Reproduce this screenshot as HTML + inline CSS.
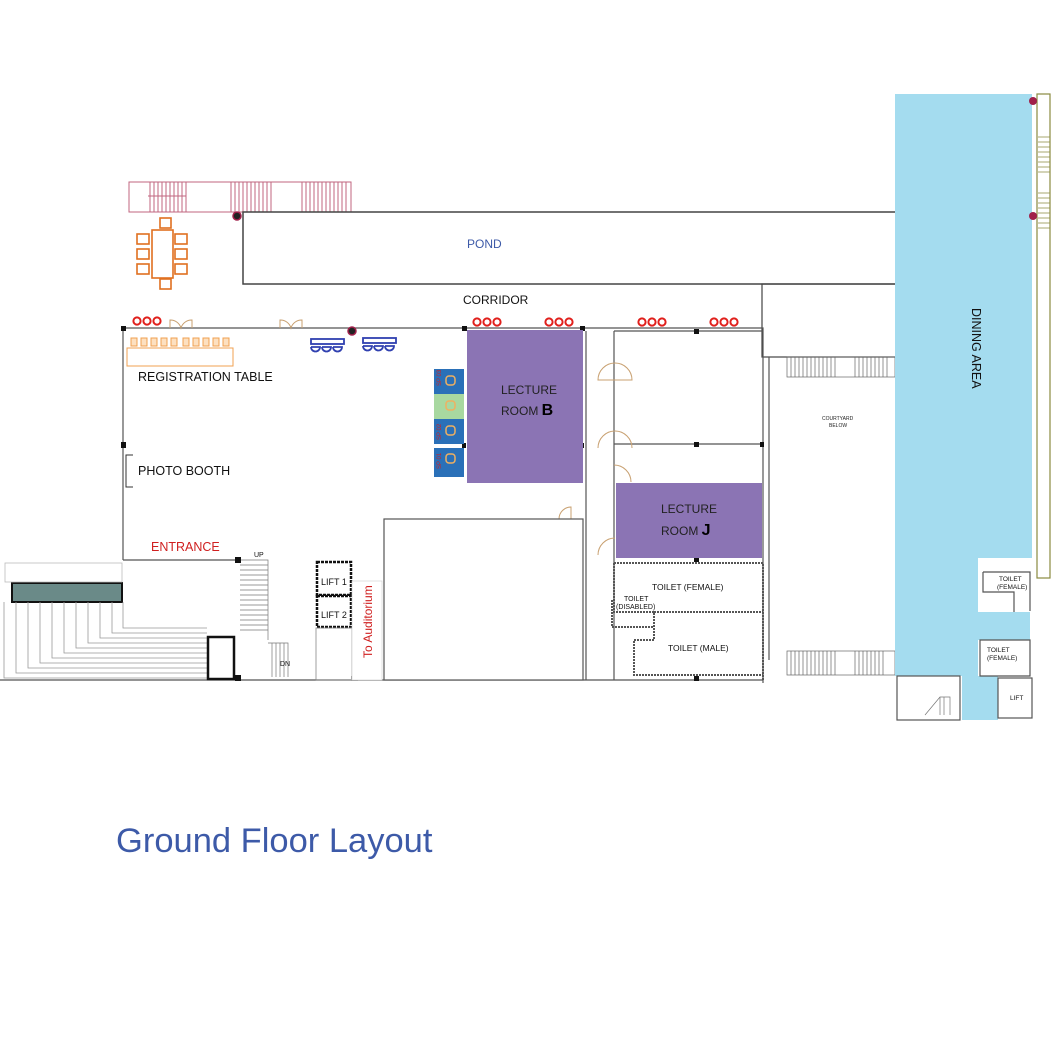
<!DOCTYPE html>
<html><head><meta charset="utf-8"><style>
html,body{margin:0;padding:0;background:#fff}
svg{display:block}
text{font-family:"Liberation Sans",sans-serif}
</style></head><body>
<svg width="1051" height="1051" viewBox="0 0 1051 1051" xmlns="http://www.w3.org/2000/svg">
<rect width="1051" height="1051" fill="#fff"/>

<!-- pink railing -->
<g stroke="#c0667f" stroke-width="1" fill="none">
<rect x="129" y="182" width="222" height="30"/>
<path d="M150 182v30M154 182v30M158 182v30M162 182v30M166 182v30M170 182v30M174 182v30M178 182v30M182 182v30M186 182v30M148 196h38"/>
<path d="M231 182v30M235 182v30M239 182v30M243 182v30M247 182v30M251 182v30M255 182v30M259 182v30M263 182v30M267 182v30M271 182v30"/>
<path d="M302 182v30M306 182v30M310 182v30M314 182v30M318 182v30M322 182v30M326 182v30M330 182v30M334 182v30M338 182v30M342 182v30M346 182v30"/>
</g>
<circle cx="237" cy="216" r="4" fill="#222" stroke="#a0204a" stroke-width="1.5"/>

<!-- dining table -->
<g stroke="#e07020" stroke-width="1.6" fill="#fff">
<rect x="160" y="218" width="11" height="10"/><rect x="160" y="279" width="11" height="10"/>
<rect x="137" y="234" width="12" height="10"/><rect x="137" y="249" width="12" height="10"/><rect x="137" y="264" width="12" height="10"/>
<rect x="175" y="234" width="12" height="10"/><rect x="175" y="249" width="12" height="10"/><rect x="175" y="264" width="12" height="10"/>
<rect x="152" y="230" width="21" height="48"/>
</g>

<!-- pond -->
<rect x="243" y="212" width="654" height="72" fill="none" stroke="#444" stroke-width="1.5"/>
<text x="467" y="248" font-size="12" fill="#3d5aa8">POND</text>
<rect x="762" y="284" width="135" height="73" fill="none" stroke="#444" stroke-width="1.2"/>
<text x="463" y="304" font-size="12" fill="#111">CORRIDOR</text>

<!-- main walls -->
<g stroke="#555" stroke-width="1.2" fill="none">
<path d="M123 328H763V683"/>
<path d="M123 328V560"/>
<path d="M123 560H237"/>
<path d="M586 331V680M614 331V680"/>
<path d="M614 331H763"/>
<path d="M614 444H763"/>
<path d="M0 680H763"/>
<path d="M769 357V660"/>
</g>
<g fill="#111">
<rect x="121" y="326" width="5" height="5"/><rect x="121" y="442" width="5" height="6"/>
<rect x="462" y="326" width="5" height="5"/><rect x="580" y="326" width="5" height="5"/>
<rect x="694" y="329" width="5" height="5"/><rect x="694" y="442" width="5" height="5"/>
<rect x="760" y="442" width="4" height="5"/><rect x="580" y="443" width="4" height="5"/><rect x="462" y="443" width="4" height="5"/>
<rect x="694" y="557" width="5" height="5"/><rect x="694" y="676" width="5" height="5"/>
</g>
<circle cx="352" cy="331" r="4" fill="#222" stroke="#a0204a" stroke-width="1.5"/>

<!-- red chair clusters -->
<g stroke="#e0201c" stroke-width="2" fill="none">
<circle cx="137" cy="321" r="3.6"/><circle cx="147" cy="321" r="3.6"/><circle cx="157" cy="321" r="3.6"/>
<circle cx="477" cy="322" r="3.6"/><circle cx="487" cy="322" r="3.6"/><circle cx="497" cy="322" r="3.6"/>
<circle cx="549" cy="322" r="3.6"/><circle cx="559" cy="322" r="3.6"/><circle cx="569" cy="322" r="3.6"/>
<circle cx="642" cy="322" r="3.6"/><circle cx="652" cy="322" r="3.6"/><circle cx="662" cy="322" r="3.6"/>
<circle cx="714" cy="322" r="3.6"/><circle cx="724" cy="322" r="3.6"/><circle cx="734" cy="322" r="3.6"/>
</g>
<!-- doors -->
<g stroke="#c8a070" stroke-width="1" fill="none">
<path d="M170 328v-8a11 11 0 0 1 11 8a11 11 0 0 1 11-8v8"/>
<path d="M280 328v-8a11 11 0 0 1 11 8a11 11 0 0 1 11-8v8"/>
<path d="M598 380a17 17 0 0 1 34 0z"/>
<path d="M598 448a17 17 0 0 1 34 0M614 465a17 17 0 0 1 17 17"/>
<path d="M598 555a17 17 0 0 1 17-17"/>
<path d="M559 519a12 12 0 0 1 12-12v12"/>
</g>

<!-- registration table -->
<g stroke="#f0a050" stroke-width="1" fill="#fde0c0">
<rect x="131" y="338" width="6" height="8"/><rect x="141" y="338" width="6" height="8"/><rect x="151" y="338" width="6" height="8"/><rect x="161" y="338" width="6" height="8"/><rect x="171" y="338" width="6" height="8"/><rect x="183" y="338" width="6" height="8"/><rect x="193" y="338" width="6" height="8"/><rect x="203" y="338" width="6" height="8"/><rect x="213" y="338" width="6" height="8"/><rect x="223" y="338" width="6" height="8"/>
</g>
<rect x="127" y="348" width="106" height="18" fill="#fff" stroke="#f0a050" stroke-width="1"/>
<text x="138" y="381" font-size="12.5" fill="#111">REGISTRATION TABLE</text>
<path d="M133 455h-7v32h7" stroke="#333" fill="none"/>
<text x="138" y="475" font-size="12.5" fill="#111">PHOTO BOOTH</text>

<!-- blue benches -->
<g stroke="#3040b0" stroke-width="1.8" fill="none">
<rect x="311" y="339" width="33" height="5"/><path d="M311 347h9a4.5 4.5 0 0 1 -9 0M322 347h9a4.5 4.5 0 0 1 -9 0M333 347h9a4.5 4.5 0 0 1 -9 0"/>
<rect x="363" y="338" width="33" height="5"/><path d="M363 346h9a4.5 4.5 0 0 1 -9 0M374 346h9a4.5 4.5 0 0 1 -9 0M385 346h9a4.5 4.5 0 0 1 -9 0"/>
</g>

<!-- booths -->
<rect x="434" y="369" width="30" height="25" fill="#2a70b8"/>
<rect x="434" y="394" width="30" height="25" fill="#a8d8a0"/>
<rect x="434" y="419" width="30" height="25" fill="#2a70b8"/>
<rect x="434" y="448" width="30" height="29" fill="#2a70b8"/>
<g stroke="#f0b060" stroke-width="1.5" fill="none">
<rect x="446" y="376" width="9" height="9" rx="3"/><rect x="446" y="401" width="9" height="9" rx="3"/><rect x="446" y="426" width="9" height="9" rx="3"/><rect x="446" y="454" width="9" height="9" rx="3"/>
</g>
<g font-size="6" fill="#d02020">
<text transform="translate(441,386) rotate(-90)">SP 03</text>
<text transform="translate(441,440) rotate(-90)">SP 02</text>
<text transform="translate(441,469) rotate(-90)">SP 01</text>
</g>

<!-- lecture rooms -->
<rect x="467" y="330" width="116" height="153" fill="#8b74b4"/>
<text x="501" y="394" font-size="12" fill="#222">LECTURE</text>
<text x="501" y="415" font-size="12" fill="#222">ROOM <tspan font-size="16" font-weight="bold" fill="#000">B</tspan></text>
<rect x="616" y="483" width="146" height="75" fill="#8b74b4"/>
<text x="661" y="513" font-size="12" fill="#222">LECTURE</text>
<text x="661" y="535" font-size="12" fill="#222">ROOM <tspan font-size="16" font-weight="bold" fill="#000">J</tspan></text>

<!-- auditorium box -->
<rect x="384" y="519" width="199" height="161" fill="#fff" stroke="#555" stroke-width="1.2"/>

<!-- toilets -->
<g stroke="#555" stroke-width="2" fill="none" stroke-dasharray="2 1">
<path d="M614 563H763V680M614 563V612H654V625M654 612H763M654 625V640H634V675H763"/>
<path d="M612 600v27h42"/>
</g>
<text x="652" y="590" font-size="8.5" fill="#111">TOILET (FEMALE)</text>
<text x="624" y="601" font-size="7" fill="#111">TOILET</text>
<text x="616" y="609" font-size="7" fill="#111">(DISABLED)</text>
<text x="668" y="651" font-size="8.5" fill="#111">TOILET (MALE)</text>

<!-- courtyard -->
<text x="822" y="420" font-size="5" fill="#222">COURTYARD</text>
<text x="829" y="427" font-size="5" fill="#222">BELOW</text>
<g stroke="#666" stroke-width="0.7" fill="none">
<rect x="787" y="357" width="108" height="20"/>
<path d="M791 357v20M795 357v20M799 357v20M803 357v20M807 357v20M811 357v20M815 357v20M819 357v20M823 357v20M827 357v20M831 357v20M835 357v20M855 357v20M859 357v20M863 357v20M867 357v20M871 357v20M875 357v20M879 357v20M883 357v20M887 357v20"/>
<rect x="787" y="651" width="108" height="24"/>
<path d="M791 651v24M795 651v24M799 651v24M803 651v24M807 651v24M811 651v24M815 651v24M819 651v24M823 651v24M827 651v24M831 651v24M835 651v24M855 651v24M859 651v24M863 651v24M867 651v24M871 651v24M875 651v24M879 651v24M883 651v24"/>
</g>

<!-- dining area -->
<path d="M895 94H1032V558H978V612H1030V640H978V676H998V720H962V676H895Z" fill="#a4dcef"/>
<text transform="translate(972,308) rotate(90)" font-size="12.5" fill="#111">DINING AREA</text>
<rect x="1037" y="94" width="13" height="484" fill="none" stroke="#8a8a40" stroke-width="1.2"/>
<g stroke="#8a8a40" stroke-width="0.7"><path d="M1038 137h12M1038 142h12M1038 147h12M1038 152h12M1038 157h12M1038 162h12M1038 167h12M1038 172h12M1038 193h12M1038 198h12M1038 203h12M1038 208h12M1038 213h12M1038 218h12M1038 223h12M1038 228h12"/></g>
<circle cx="1033" cy="101" r="4" fill="#a0204a"/><circle cx="1033" cy="216" r="4" fill="#a0204a"/>
<g stroke="#555" stroke-width="1.2" fill="none">
<path d="M983 572H1030V611M983 572V592H1014V612M980 640H1030V676H980Z"/>
<rect x="998" y="678" width="34" height="40"/>
<rect x="897" y="676" width="63" height="44"/>
</g>
<g stroke="#777" stroke-width="0.7" fill="none"><path d="M925 715l15-18h10v18M940 697v18M944 697v18"/></g>
<text x="999" y="581" font-size="6.5" fill="#111">TOILET</text>
<text x="997" y="589" font-size="6.5" fill="#111">(FEMALE)</text>
<text x="987" y="652" font-size="6.5" fill="#111">TOILET</text>
<text x="987" y="660" font-size="6.5" fill="#111">(FEMALE)</text>
<text x="1010" y="700" font-size="6.5" fill="#111">LIFT</text>

<!-- entrance area -->
<text x="151" y="551" font-size="12.5" fill="#d02020">ENTRANCE</text>
<rect x="12" y="583" width="110" height="19" fill="#6a8a88" stroke="#111" stroke-width="2"/>
<rect x="5" y="563" width="117" height="19" fill="#fff" stroke="#bbb" stroke-width="0.8"/>
<g stroke="#999" stroke-width="0.8" fill="none">
<path d="M4 602V678H207M16 602V673H207M28 602V668H207M40 602V663H207M52 602V658H207M64 602V653H207M76 602V648H207M88 602V643H207M100 602V638H207M112 602V633H207M123 602V628H207"/>
</g>
<rect x="208" y="637" width="26" height="42" fill="#fff" stroke="#111" stroke-width="2.5"/>
<!-- stairs -->
<g stroke="#777" stroke-width="0.7" fill="none">
<path d="M240 560H268V640M240 565H268M240 570H268M240 575H268M240 580H268M240 585H268M240 590H268M240 595H268M240 600H268M240 605H268M240 610H268M240 615H268M240 620H268M240 625H268M240 630H268"/>
<path d="M268 643h20v34M272 643v34M276 643v34M280 643v34M284 643v34"/>
</g>
<rect x="235" y="557" width="6" height="6" fill="#111"/><rect x="235" y="675" width="6" height="6" fill="#111"/>
<text x="254" y="557" font-size="7" fill="#111">UP</text>
<text x="280" y="666" font-size="7" fill="#111">DN</text>

<!-- lifts -->
<rect x="317" y="562" width="34" height="33" fill="#fff" stroke="#111" stroke-width="2.5" stroke-dasharray="3 1"/>
<rect x="317" y="596" width="34" height="31" fill="#fff" stroke="#111" stroke-width="2.5" stroke-dasharray="3 1"/>
<text x="321" y="585" font-size="9" fill="#111">LIFT 1</text>
<text x="321" y="618" font-size="9" fill="#111">LIFT 2</text>
<rect x="316" y="628" width="36" height="52" fill="none" stroke="#888" stroke-width="0.8"/>
<rect x="351" y="676" width="7" height="5" fill="#999"/>
<rect x="352" y="581" width="30" height="99" fill="#fff" stroke="#ccc" stroke-width="0.6"/>
<text transform="translate(372,658) rotate(-90)" font-size="12" fill="#d02020">To Auditorium</text>

<!-- title -->
<text x="116" y="852" font-size="34.5" fill="#3d5aa8">Ground Floor Layout</text>
</svg>
</body></html>
